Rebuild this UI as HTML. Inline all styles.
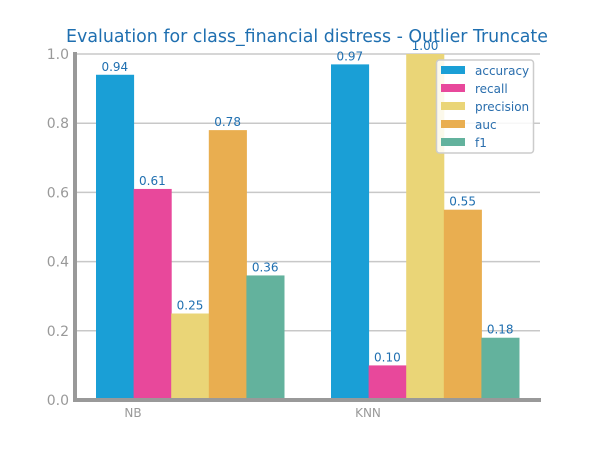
<!DOCTYPE html>
<html><head><meta charset="utf-8"><style>
html,body{margin:0;padding:0;background:#fff;width:600px;height:450px;overflow:hidden}
svg text{font-family:"DejaVu Sans","Liberation Sans",sans-serif}
</style></head><body>
<svg id="chart" width="600" height="450"></svg>
<script>
const categories = ["NB", "KNN"];
const metrics = ["accuracy", "recall", "precision", "auc", "f1"];
const nbValues = [0.94, 0.61, 0.25, 0.78, 0.36];
const knnValues = [0.97, 0.10, 1.00, 0.55, 0.18];
const yTicks = [0.0, 0.2, 0.4, 0.6, 0.8, 1.0];
const colors = ["#1a9fd6", "#e8489b", "#ead577", "#e9ae50", "#63b29d"];

const NS = "http://www.w3.org/2000/svg";
const svg = document.getElementById("chart");
function mk(tag, attrs, parent) {
  const e = document.createElementNS(NS, tag);
  for (const k in attrs) e.setAttribute(k, attrs[k]);
  (parent || svg).appendChild(e);
  return e;
}
const x0 = 75, x1 = 540, yBase = 400, yTop = 54;
const y = v => yBase - v * (yBase - yTop);
const groupStart = [96, 331];
const barW = 37.6;
const bx = (g, i) => groupStart[g] + i * barW;

const title = mk("text", {x: 307, y: 42, "text-anchor": "middle", "font-size": 17.4, fill: "#1f6fb0"});
title.textContent = "Evaluation for class_financial distress - Outlier Truncate";



yTicks.forEach(t => {
  const gl = mk("line", {x1: x0, x2: x1, y1: y(t), y2: y(t), stroke: "#c8c8c8", "stroke-width": 1.5});
  
  
  const tl = mk("text", {x: 69, y: y(t) + 5, "text-anchor": "end", "font-size": 14, fill: "#999"});
  tl.textContent = t.toFixed(1);
  
  
});

const series = [nbValues, knnValues];
series.forEach((vals, g) => {
  vals.forEach((v, i) => {
    const r = mk("rect", {x: bx(g, i), y: y(v), width: barW + 0.5, height: yBase - y(v), fill: colors[i], "fill-opacity": 1});
    
    
    const l = mk("text", {x: bx(g, i) + barW / 2, y: y(v) - 4, "text-anchor": "middle", "font-size": 12, fill: "#1f6fb0"});
    l.textContent = v.toFixed(2);
    
    
  });
  const cl = mk("text", {x: groupStart[g] + 37, y: 417, "text-anchor": "middle", "font-size": 12, fill: "#999"});
  cl.textContent = categories[g];
  
  
});

const ya = mk("line", {x1: 75, x2: 75, y1: 52, y2: 402, stroke: "#999", "stroke-width": 4});


const xa = mk("line", {x1: 73, x2: 541, y1: 400, y2: 400, stroke: "#999", "stroke-width": 4});



const lg = mk("g", {});


mk("rect", {x: 436.5, y: 60, width: 97, height: 93, rx: 3, fill: "rgba(255,255,255,0.85)", stroke: "#ccc", "stroke-width": 1.5}, lg);
metrics.forEach((m, i) => {
  const e = mk("g", {}, lg);
  
  
  mk("rect", {x: 441, y: 66 + i * 18, width: 24, height: 8, fill: colors[i]}, e);
  const t = mk("text", {x: 475, y: 75 + i * 18, "font-size": 12, fill: "#2a6ead"}, e);
  t.textContent = m;
});
</script>
</body></html>
